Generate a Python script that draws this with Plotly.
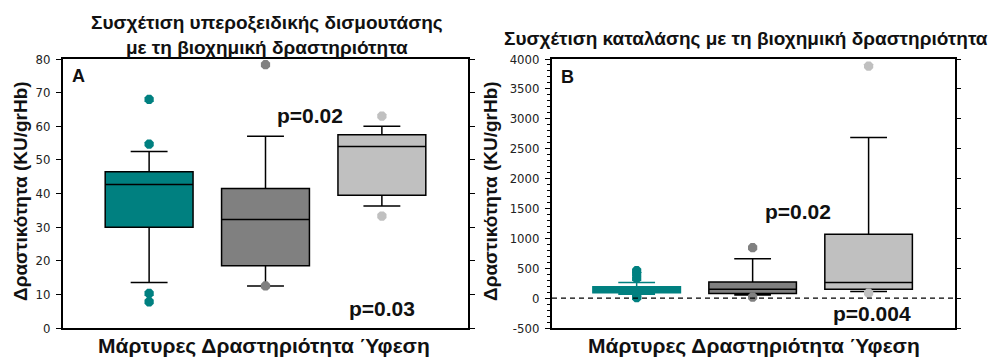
import plotly.graph_objects as go

# ---------------- data ----------------
groups = ["Μάρτυρες", "Δραστηριότητα", "Ύφεση"]
positions = [0, 1, 2]
colors = ["#008080", "#808080", "#c0c0c0"]

# Panel A: superoxide dismutase (KU/grHb)
sod_q1 = [30.0, 18.5, 39.5]
sod_median = [42.7, 32.3, 54.0]
sod_q3 = [46.5, 41.5, 57.5]
sod_low = [13.5, 12.5, 36.3]
sod_high = [52.5, 57.0, 60.0]
sod_outliers = [[68.0, 54.7, 10.3, 7.8], [78.3, 12.5], [63.0, 33.3]]
sod_ticks = [0, 10, 20, 30, 40, 50, 60, 70, 80]
sod_ticktext = ["0", "10", "20", "30", "40", "50", "60", "70", "80"]

# Panel B: catalase (KU/grHb)
cat_q1 = [90, 78, 150]
cat_median = [140, 150, 263]
cat_q3 = [190, 268, 1070]
cat_low = [65, 50, 110]
cat_high = [263, 658, 2685]
cat_outliers = [[460, 400, 330, 30, 10], [843, 18], [3880, 85]]
cat_ticks = [-500, 0, 500, 1000, 1500, 2000, 2500, 3000, 3500, 4000]
cat_ticktext = ["-500", "0", "500", "1000", "1500", "2000", "2500", "3000", "3500", "4000"]

title_a = "Συσχέτιση υπεροξειδικής δισμουτάσης<br>με τη βιοχημική δραστηριότητα"
title_b = "Συσχέτιση καταλάσης με τη βιοχημική δραστηριότητα"
ytitle = "Δραστικότητα (KU/grHb)"
xtitle = " ".join(groups)
p_texts_a = ["p=0.02", "p=0.03"]
p_texts_b = ["p=0.02", "p=0.004"]

# ---------------- figure ----------------
BOLD = "Liberation Sans"
NARROW = "Liberation Sans Narrow, DejaVu Sans Condensed, Liberation Sans"
W, H = 1000, 361
OFF = 8  # page body margin in the browser


def fx(sx):
    return (sx - OFF) / W


def fy(sy):
    return 1 - (sy - OFF) / H


fig = go.Figure()


def add_panel(q1, med, q3, lo, hi, outl, xa, ya, line_colors):
    for i, p in enumerate(positions):
        fig.add_trace(go.Box(
            x=[p], q1=[q1[i]], median=[med[i]], q3=[q3[i]],
            lowerfence=[lo[i]], upperfence=[hi[i]],
            width=0.755, whiskerwidth=0.42,
            fillcolor=colors[i], line=dict(color=line_colors[i], width=1.5),
            boxpoints=False, showlegend=False, hoverinfo="skip",
            xaxis=xa, yaxis=ya))
        fig.add_trace(go.Scatter(
            x=[p] * len(outl[i]), y=outl[i], mode="markers",
            marker=dict(color=colors[i], size=10, symbol="octagon", line=dict(width=0)),
            showlegend=False, hoverinfo="skip", xaxis=xa, yaxis=ya))


add_panel(sod_q1, sod_median, sod_q3, sod_low, sod_high, sod_outliers, "x", "y",
          ["black", "black", "black"])
add_panel(cat_q1, cat_median, cat_q3, cat_low, cat_high, cat_outliers, "x2", "y2",
          ["#008080", "black", "black"])

ydom = [fy(328), fy(59)]
common_x = dict(showticklabels=False, ticks="", showline=True, mirror=True,
                linecolor="black", linewidth=2, showgrid=False, zeroline=False,
                automargin=False)
common_y = dict(ticks="outside", ticklen=5, tickwidth=1, tickcolor="black",
                showline=True, linecolor="black", linewidth=2,
                showgrid=False, zeroline=False, automargin=False,
                ticklabelstandoff=3,
                tickfont=dict(family=NARROW, size=13, color="#222"))

fig.update_layout(
    template="none",
    width=W, height=H, autosize=False,
    margin=dict(l=0, r=0, t=0, b=0, pad=0),
    paper_bgcolor="white", plot_bgcolor="white",
    showlegend=False,
    xaxis=dict(domain=[fx(63), fx(468)], range=[-0.74, 2.74], anchor="y", **common_x),
    yaxis=dict(domain=ydom, range=[0, 80], anchor="x", tickvals=sod_ticks,
               ticktext=sod_ticktext, mirror="ticks", **common_y),
    xaxis2=dict(domain=[fx(552), fx(955)], range=[-0.73, 2.745], anchor="y2", **common_x),
    yaxis2=dict(domain=ydom, range=[-500, 4000], anchor="x2", tickvals=cat_ticks,
                ticktext=cat_ticktext, mirror=True,
                minor=dict(dtick=100, ticks="outside", ticklen=3, tickcolor="black"),
                **common_y),
    # right-side major ticks only for panel B
    yaxis3=dict(domain=ydom, range=[-500, 4000], overlaying="y2", anchor="x2", side="right",
                tickvals=cat_ticks, showticklabels=False, ticks="outside", ticklen=5,
                tickcolor="black", showline=False, showgrid=False, zeroline=False,
                automargin=False),
)

# invisible trace to activate the right-hand tick axis
fig.add_trace(go.Scatter(x=[positions[0]], y=[cat_ticks[1]], mode="markers",
                         marker=dict(opacity=0), showlegend=False, hoverinfo="skip",
                         xaxis="x2", yaxis="y3"))

# zero reference line on panel B
fig.add_shape(type="line", xref="x2 domain", yref="y2", x0=0, x1=1, y0=0, y1=0,
              line=dict(color="black", width=1.2, dash="5px,4px"))

ann_font = dict(family=BOLD, weight="bold", color="#111")


def px(sx, sy):
    return dict(x=fx(sx), y=fy(sy), xref="paper", yref="paper")


anns = [
    # titles
    dict(text=title_a, **px(267, 35), font=dict(size=19, **ann_font)),
    dict(text=title_b, **px(746, 39), font=dict(size=19, **ann_font)),
    # axis titles
    dict(text=ytitle, **px(20, 191), textangle=-90, font=dict(size=19, **ann_font)),
    dict(text=ytitle, **px(490, 191), textangle=-90, font=dict(size=19, **ann_font)),
    dict(text=xtitle, **px(264, 346), font=dict(size=21, **ann_font)),
    dict(text=xtitle, **px(754, 346), font=dict(size=21, **ann_font)),
    # panel letters
    dict(text="A", x=-0.61, y=75, xref="x", yref="y", font=dict(size=18, **ann_font)),
    dict(text="B", x=-0.60, y=3700, xref="x2", yref="y2", font=dict(size=18, **ann_font)),
    # p values
    dict(text=p_texts_a[0], x=1.38, y=63.3, xref="x", yref="y", font=dict(size=21, **ann_font)),
    dict(text=p_texts_a[1], x=2.0, y=5.9, xref="x", yref="y", font=dict(size=21, **ann_font)),
    dict(text=p_texts_b[0], x=1.39, y=1457, xref="x2", yref="y2", font=dict(size=21, **ann_font)),
    dict(text=p_texts_b[1], x=2.03, y=-250, xref="x2", yref="y2", font=dict(size=21, **ann_font)),
]
for a in anns:
    fig.add_annotation(showarrow=False, xanchor="center", yanchor="middle", **a)

fig.write_html("out.html")
